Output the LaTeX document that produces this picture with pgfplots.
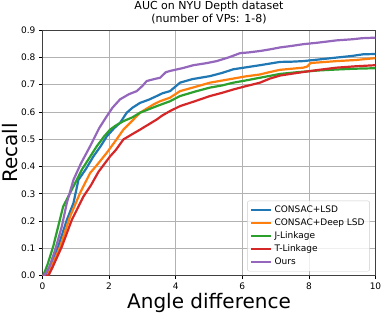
\documentclass[border=0pt]{standalone}
\usepackage{pgfplots}
\pgfplotsset{compat=1.18}
\usepackage{fontspec}
\setmainfont{DejaVu Sans}
\definecolor{tabblue}{HTML}{1F77B4}
\definecolor{taborange}{HTML}{FF7F0E}
\definecolor{tabgreen}{HTML}{2CA02C}
\definecolor{tabred}{HTML}{D62728}
\definecolor{tabpurple}{HTML}{9467BD}
\begin{document}
\begin{tikzpicture}
\useasboundingbox (-42.5pt,-38.4pt) rectangle (338.5pt,275.6pt);
\begin{axis}[
  scale only axis,
  width=333pt, height=245.6pt,
  xmin=0, xmax=10, ymin=0, ymax=0.9,
  xtick={0,2,4,6,8,10},
  ytick={0,0.1,0.2,0.3,0.4,0.5,0.6,0.7,0.8,0.9},
  yticklabel style={/pgf/number format/.cd, fixed, fixed zerofill, precision=1},
  /pgf/number format/assume math mode=true,
  tick label style={font=\fontsize{9}{10}\selectfont, text=black},
  tick align=outside, tick pos=left,
  major tick length=3.5pt,
  every tick/.style={black, line width=0.6pt},
  axis line style={black!75, line width=0.8pt},
  grid=major,
  major grid style={draw=black!30, line width=0.7pt},
  title={AUC on NYU Depth dataset\\(number of VPs: 1-8)},
  title style={align=center, font=\fontsize{11}{13.5}\selectfont, yshift=-3.5pt},
  xlabel={Angle difference},
  ylabel={Recall},
  label style={font=\fontsize{20}{22}\selectfont},
  xlabel style={yshift=3pt},
  ylabel style={yshift=-3pt},
  legend style={at={(0.983,0.017)}, anchor=south east, font=\fontsize{9}{10}\selectfont,
    draw=black!20, fill=white, fill opacity=0.8, text opacity=1, rounded corners=2pt,
    row sep=0.8pt, inner xsep=3pt, inner ysep=3pt},
  legend cell align=left,
  legend image code/.code={\draw[#1, line width=2.2pt] (0pt,0pt) -- (20pt,0pt);},
  every axis plot/.append style={line width=2.2pt, line join=round},
]
\addplot[tabblue] coordinates {
(0,0) (0.1,0) (0.25,0.04) (0.47,0.106) (0.73,0.204) (0.93,0.266) (1.08,0.351) (1.3,0.39)
(1.53,0.437) (1.75,0.475) (1.93,0.51) (2.15,0.54) (2.33,0.56) (2.53,0.597) (2.7,0.615)
(2.93,0.633) (3.2,0.645) (3.43,0.658) (3.6,0.668) (3.83,0.676) (4.13,0.707) (4.5,0.72)
(5.03,0.731) (5.4,0.743) (5.73,0.756) (6.1,0.763) (6.53,0.771) (6.83,0.777) (7.13,0.783)
(7.5,0.784) (7.83,0.786) (8.3,0.792) (8.83,0.799) (9.3,0.805) (9.63,0.811) (10,0.812)};
\addlegendentry{CONSAC+LSD}
\addplot[taborange] coordinates {
(0,0) (0.15,0) (0.3,0.04) (0.53,0.106) (0.83,0.217) (1.13,0.303) (1.43,0.376) (1.6,0.40)
(1.93,0.45) (2.2,0.495) (2.43,0.535) (2.7,0.568) (2.93,0.597) (3.13,0.612) (3.33,0.627)
(3.53,0.639) (3.83,0.652) (4.13,0.676) (4.6,0.692) (5.03,0.707) (5.4,0.715) (5.73,0.722)
(6.1,0.73) (6.53,0.737) (6.83,0.746) (7.13,0.754) (7.83,0.762) (7.95,0.766) (8.05,0.779)
(8.83,0.786) (9.4,0.79) (10,0.797)};
\addlegendentry{CONSAC+Deep LSD}
\addplot[tabgreen] coordinates {
(0,0) (0.02,0) (0.15,0.04) (0.32,0.106) (0.62,0.253) (0.93,0.327) (1.18,0.388) (1.4,0.43)
(1.63,0.474) (1.85,0.51) (2.03,0.535) (2.2,0.55) (2.43,0.566) (2.7,0.58) (2.93,0.597)
(3.2,0.61) (3.43,0.621) (3.83,0.639) (4.13,0.658) (4.6,0.675) (5.03,0.689) (5.4,0.697)
(5.73,0.707) (6.1,0.715) (6.53,0.725) (6.83,0.732) (7.13,0.739) (7.7,0.746) (8.33,0.752)
(8.8,0.755) (9.33,0.758) (10,0.76)};
\addlegendentry{J-Linkage}
\addplot[tabred] coordinates {
(0,0) (0.18,0) (0.3,0.03) (0.58,0.106) (0.88,0.204) (1.23,0.29) (1.45,0.33) (1.68,0.38)
(2.03,0.437) (2.2,0.46) (2.43,0.499) (2.65,0.515) (2.93,0.535) (3.2,0.555) (3.43,0.572)
(3.6,0.587) (3.83,0.603) (4.13,0.621) (4.6,0.64) (5.03,0.658) (5.4,0.67) (5.73,0.682)
(6.1,0.694) (6.53,0.707) (6.83,0.722) (7.13,0.733) (7.5,0.74) (7.83,0.746) (8.3,0.754)
(8.83,0.762) (9.4,0.767) (10,0.771)};
\addlegendentry{T-Linkage}
\addplot[tabpurple] coordinates {
(0,0) (0.05,0) (0.2,0.03) (0.38,0.094) (0.58,0.18) (0.73,0.266) (0.93,0.351) (1.15,0.41)
(1.43,0.474) (1.7,0.54) (1.93,0.584) (2.1,0.615) (2.33,0.646) (2.6,0.665) (2.83,0.676)
(3.0,0.695) (3.13,0.713) (3.35,0.72) (3.53,0.725) (3.7,0.745) (3.83,0.75) (4.2,0.76)
(4.53,0.771) (4.9,0.778) (5.23,0.786) (5.6,0.80) (5.93,0.815) (6.2,0.818) (6.53,0.823)
(6.83,0.829) (7.13,0.836) (7.5,0.842) (7.83,0.848) (8.3,0.854) (8.83,0.862) (9.3,0.866)
(9.6,0.87) (10,0.872)};
\addlegendentry{Ours}
\end{axis}
\end{tikzpicture}
\end{document}
